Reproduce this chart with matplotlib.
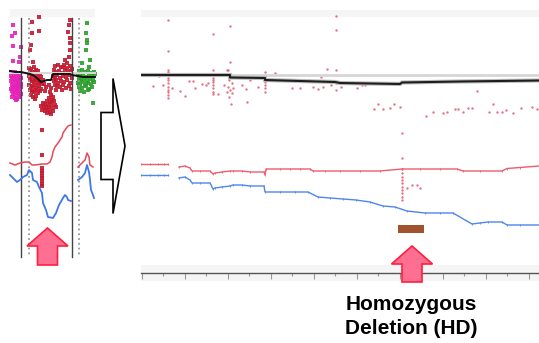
import numpy as np
import matplotlib.pyplot as plt
from matplotlib.patches import FancyArrow, Rectangle
from matplotlib.ticker import FixedLocator

W, H = 539, 343

# ---- left (whole chromosome) panel, positions in panel pixels ----
magenta_pts = [(13, 25), (15, 33), (12, 36), (13, 46), (21, 47), (13, 61), (20, 57), (19, 62),
               (11, 72), (13, 73), (15, 72), (18, 74), (20, 73),
               (11, 76), (12, 78), (14, 77), (16, 76), (17, 79), (19, 77), (21, 78),
               (11, 81), (13, 82), (14, 80), (16, 83), (18, 81), (20, 82), (21, 84),
               (12, 85), (13, 87), (15, 86), (17, 85), (18, 88), (19, 86), (21, 87),
               (11, 89), (12, 91), (14, 90), (16, 92), (17, 89), (20, 91),
               (13, 94), (15, 95), (18, 93), (19, 96), (21, 94),
               (12, 97), (15, 98), (17, 99), (20, 97), (16, 100)]

darkred_pts = [(39, 17), (32, 22), (32, 33), (39, 31), (70, 20), (69, 25), (68, 32), (70, 38),
               (70, 43), (70, 50), (69, 57), (67, 63), (65, 60), (33, 62), (30, 50), (31, 45),
               (63, 67), (42, 130), (42, 155),
               (29, 68), (31, 69), (34, 67), (36, 70), (30, 72), (32, 73), (35, 72), (38, 71), (40, 74),
               (29, 76), (31, 77), (33, 75), (35, 78), (37, 76), (39, 79), (41, 77),
               (30, 80), (32, 81), (34, 82), (36, 80), (38, 83), (40, 82), (42, 84),
               (29, 85), (31, 86), (33, 87), (35, 85), (37, 88), (39, 86), (41, 89),
               (30, 90), (32, 91), (34, 92), (36, 90), (38, 93), (40, 91),
               (31, 95), (33, 97), (36, 96), (35, 99),
               (55, 66), (58, 65), (61, 67), (64, 65), (67, 68), (70, 66), (72, 69),
               (54, 70), (56, 72), (59, 71), (62, 73), (65, 70), (68, 72), (71, 71),
               (53, 76), (55, 77), (57, 75), (60, 78), (63, 76), (66, 77), (69, 75), (72, 78),
               (54, 81), (56, 80), (58, 83), (61, 81), (64, 82), (67, 80), (70, 83),
               (55, 85), (57, 86), (60, 87), (63, 85), (66, 88), (69, 86), (71, 89),
               (56, 90), (62, 90),
               (44, 84), (46, 87), (49, 85), (51, 88), (45, 91), (50, 92), (43, 80),
               (51, 95), (53, 97), (49, 98), (52, 100), (47, 101), (50, 102), (54, 101),
               (43, 103), (45, 104), (48, 105), (51, 104), (55, 105), (41, 106), (44, 107),
               (46, 108), (49, 107), (52, 108), (56, 107), (42, 110), (45, 111), (48, 110),
               (50, 112), (53, 111), (47, 113), (51, 114),
               (42, 168), (42, 171), (42, 173), (42, 176), (42, 178), (42, 181), (42, 184), (42, 186)]

green_pts = [(87, 23), (86, 33), (87, 40), (87, 43), (86, 50), (82, 63), (90, 60), (89, 67), (93, 103),
             (79, 71), (82, 70), (85, 72), (88, 71), (91, 73), (94, 72),
             (78, 75), (80, 76), (83, 74), (86, 77), (89, 75), (92, 76), (95, 74),
             (79, 79), (81, 80), (84, 78), (87, 81), (90, 79), (93, 80),
             (78, 83), (80, 84), (83, 82), (86, 85), (88, 83), (91, 84), (94, 82),
             (79, 87), (82, 88), (85, 86), (89, 89), (92, 87),
             (80, 91), (84, 92), (88, 90)]

left_black_x = [10, 15, 21, 30, 33, 37, 41, 47, 51, 53, 70, 72, 78, 83, 95]
left_black_y = [71, 72, 72, 74, 75, 78, 82, 80, 80, 74, 74, 75, 76, 77, 77]

left_red_a_x = [10, 15, 20, 25, 29, 32, 35, 42, 47, 50, 52, 53, 55, 58, 62, 63, 65, 68, 71]
left_red_a_y = [163, 165, 163, 162, 162, 165, 165, 164, 164, 162, 157, 152, 147, 143, 137, 133, 130, 126, 125]
left_red_b_x = [78, 82, 85, 87, 89, 90, 93]
left_red_b_y = [167, 163, 160, 153, 157, 165, 167]

left_blue_a_x = [10, 13, 17, 20, 23, 27, 29, 32, 33, 37, 39, 42, 43, 46, 48, 53, 56, 59, 63, 65, 67, 68, 71]
left_blue_a_y = [175, 178, 182, 180, 177, 175, 170, 173, 180, 182, 187, 193, 203, 210, 217, 218, 213, 205, 198, 195, 197, 200, 201]
left_blue_b_x = [78, 82, 85, 87, 89, 90, 91, 93, 94]
left_blue_b_y = [180, 177, 173, 165, 172, 180, 190, 195, 198]

# ---- right (zoomed region) panel ----
right_pts = ([(168, y) for y in [20, 51, 70, 72, 75, 78, 80, 83, 87, 90, 92, 95, 98]]
             + [(153, 86), (159, 76), (163, 85), (172, 88), (180, 91), (185, 96), (189, 81),
                (193, 81), (195, 88), (202, 84), (206, 85), (208, 83)]
             + [(213, y) for y in [34, 70, 75, 78, 80, 82, 85, 88, 92, 94]]
             + [(218, 94), (224, 85), (227, 70),
                (230, 26), (230, 62), (228, 70), (231, 77), (229, 80), (232, 83), (228, 87),
                (230, 90), (232, 93), (229, 97), (231, 104), (233, 88), (227, 92),
                (237, 77), (242, 85), (246, 89), (247, 102), (249, 76), (250, 80), (258, 87)]
             + [(265, y) for y in [72, 75, 78, 82, 85, 88, 92]]
             + [(275, 73), (292, 88), (300, 88), (305, 80), (309, 80), (313, 87), (318, 89),
                (321, 77), (323, 87), (327, 69), (331, 85)]
             + [(336, y) for y in [16, 30, 70, 75, 83, 90]]
             + [(341, 87), (347, 82), (357, 88), (362, 85), (365, 85),
                (374, 109), (378, 104), (383, 109), (390, 108), (394, 104), (400, 107),
                (426, 116), (433, 112), (443, 113), (447, 112), (455, 109), (458, 109),
                (463, 112), (468, 108), (472, 108), (477, 91), (489, 112), (493, 104),
                (497, 112), (502, 112), (506, 110), (513, 113), (521, 108), (532, 107), (537, 109)]
             + [(402, y) for y in [133, 158, 169, 173, 177, 180, 183, 187, 190, 193, 197, 200]]
             + [(407, 188), (412, 185), (417, 185), (420, 188)])

right_black_x = [141, 230, 230, 265, 265, 335, 340, 400, 402, 460, 539]
right_black_y = [75, 75, 77.5, 78, 80, 82, 83, 84, 82.5, 81.5, 80.5]

right_red_a_x = [141, 150, 158, 164, 168]
right_red_a_y = [164, 164, 164, 164, 164]
right_red_b_x = [179, 185, 190, 192, 200, 210, 213, 215, 222, 230, 233, 242, 250, 264, 265, 266,
                 280, 290, 300, 310, 313, 325, 340, 360, 380, 402, 420, 440, 457, 463, 480, 502, 507, 520, 539]
right_red_b_y = [167, 166, 168, 171, 171, 171, 174, 173, 172, 171, 171, 171, 172, 172, 175, 169,
                 169, 169, 169, 169, 171, 171, 171, 171, 171, 169, 169, 169, 169, 171, 171, 171, 168.5, 167.5, 166]

right_blue_a_x = [141, 150, 158, 164, 168]
right_blue_a_y = [175, 175, 175, 175, 175]
right_blue_b_x = [179, 185, 190, 192, 200, 210, 213, 215, 222, 230, 233, 242, 250, 264, 265, 280,
                  295, 308, 318, 330, 343, 356, 370, 383, 395, 407, 425, 440, 453, 472, 480, 488, 502, 507, 520, 539]
right_blue_b_y = [178, 177, 180, 183, 183, 183, 189, 188, 187, 186, 185, 185, 186, 186, 192, 192,
                  192, 192, 197, 198, 199, 200, 202, 206, 207, 211, 213, 213, 213, 224, 223, 222, 222, 225, 225, 225]

hd_start, hd_end = 398, 424

fig = plt.figure(figsize=(W / 100, H / 100), dpi=100)


def box(x0, y0, x1, y1):
    return [x0 / W, 1 - y1 / H, (x1 - x0) / W, (y1 - y0) / H]


bg = fig.add_axes([0, 0, 1, 1], zorder=0)
bg.set_xlim(0, W)
bg.set_ylim(H, 0)
bg.axis('off')
for x0, y0, x1, y1 in [(10, 9, 95, 17), (141, 10, 539, 17), (141, 265, 539, 281)]:
    bg.add_patch(Rectangle((x0, y0), x1 - x0, y1 - y0, color='#f5f5f5', lw=0))

# left panel
left = fig.add_axes(box(5, 0, 100, 280), zorder=1)
left.set_xlim(5, 100)
left.set_ylim(280, 0)
left.axis('off')
left.plot([10, 95], [73, 73], color='#d8d8d8', lw=1.5)
for x in [21, 72]:
    left.plot([x, x], [18, 257], color='#444', lw=1)
for x in [29, 79]:
    left.plot([x, x], [18, 257], color='#999', lw=1.3, ls=':')
for pts, col in [(magenta_pts, '#e620b8'), (darkred_pts, '#c4182e'), (green_pts, '#2aa02a')]:
    px, py = zip(*pts)
    left.scatter(px, py, s=5, marker='s', color=col, lw=0, alpha=0.9)
left.plot(left_black_x, left_black_y, color='#111', lw=1.4)
left.plot(left_red_a_x, left_red_a_y, color='#e8485a', lw=1.1)
left.plot(left_red_b_x, left_red_b_y, color='#e8485a', lw=1.1)
left.plot(left_blue_a_x, left_blue_a_y, color='#3d78e8', lw=1.3)
left.plot(left_blue_b_x, left_blue_b_y, color='#3d78e8', lw=1.3)

# right panel
right = fig.add_axes(box(141, 0, 539, 272.5), zorder=1)
right.set_xlim(141, 539)
right.set_ylim(272.5, 0)
right.patch.set_visible(False)
for s in ['top', 'left', 'right']:
    right.spines[s].set_visible(False)
right.spines['bottom'].set_color('#555')
right.spines['bottom'].set_linewidth(1)
right.xaxis.set_major_locator(FixedLocator(np.arange(141.7, 540, 43)))
right.xaxis.set_minor_locator(FixedLocator(np.arange(163.2, 540, 43)))
right.tick_params(axis='x', which='major', length=4, width=0.8, color='#999', labelbottom=False)
right.tick_params(axis='x', which='minor', length=2.5, width=0.8, color='#999')
right.set_yticks([])

right.plot([230, 539], [75, 75], color='#d6d6d6', lw=2)
right.plot(right_black_x, right_black_y, color='#bbbbbb', lw=3, solid_joinstyle='miter')
right.plot(right_black_x, right_black_y, color='#1e1e1e', lw=1.5)
rx, ry = zip(*right_pts)
right.scatter(rx, ry, s=3, color='#e0506a', lw=0, alpha=0.8)
for xs, ys, col in [(right_red_a_x, right_red_a_y, '#ee5c6c'), (right_red_b_x, right_red_b_y, '#ee5c6c'),
                    (right_blue_a_x, right_blue_a_y, '#4f86ec'), (right_blue_b_x, right_blue_b_y, '#4f86ec')]:
    right.plot(xs, ys, color=col, lw=1, marker='|', ms=2, mew=0.6)
right.add_patch(Rectangle((hd_start, 225), hd_end - hd_start, 8, color='#a0522d', lw=0))

# arrows and annotation
fg = fig.add_axes([0, 0, 1, 1], zorder=3)
fg.set_xlim(0, W)
fg.set_ylim(H, 0)
fg.axis('off')
fg.add_patch(FancyArrow(101, 146, 24, 0, width=67, head_width=135, head_length=12,
                        length_includes_head=True, facecolor='white', edgecolor='black', lw=1.2))
for x, y0, y1 in [(47.5, 265, 228), (412, 282, 246)]:
    fg.add_patch(FancyArrow(x, y0, 0, y1 - y0, width=20, head_width=41, head_length=18,
                            length_includes_head=True, facecolor='#ff6f91', edgecolor='#ff1f3d', lw=1.2))
fg.text(411.5, 310.5, 'Homozygous', ha='center', va='baseline', fontsize=15,
        fontweight='bold', family='Liberation Sans')
fg.text(411.5, 334, 'Deletion (HD)', ha='center', va='baseline', fontsize=15,
        fontweight='bold', family='Liberation Sans')

fig.savefig('out.png', dpi=100)
